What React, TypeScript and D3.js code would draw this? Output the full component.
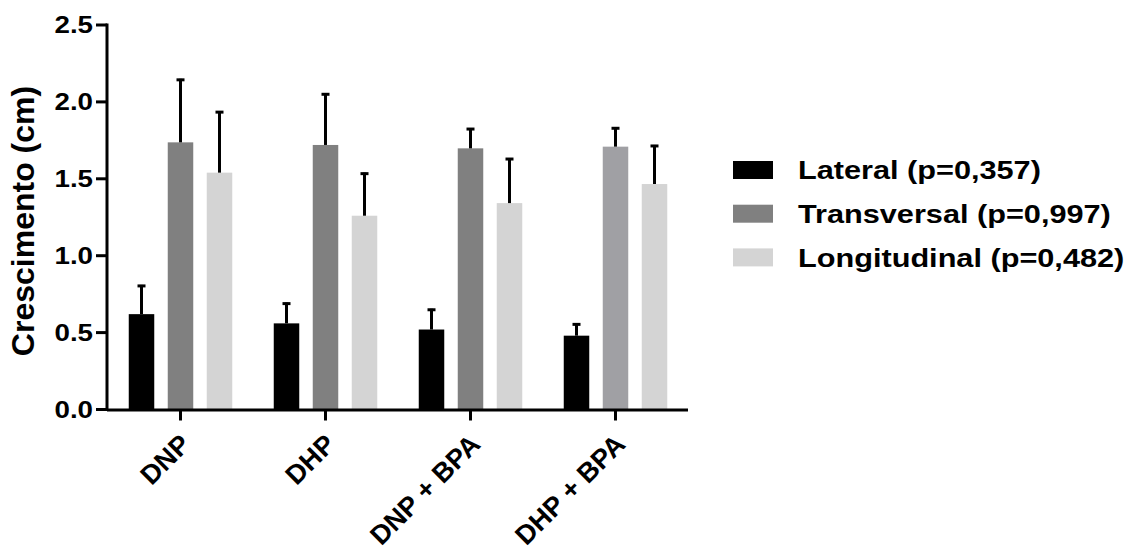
import React from "react";
import * as d3 from "d3";

const categories = ["DNP", "DHP", "DNP + BPA", "DHP + BPA"];
const seriesNames = ["Lateral (p=0,357)", "Transversal (p=0,997)", "Longitudinal (p=0,482)"];
const lateralMean = [0.62, 0.56, 0.52, 0.48];
const lateralErr = [0.19, 0.135, 0.135, 0.08];
const transversalMean = [1.737, 1.72, 1.698, 1.709];
const transversalErr = [0.413, 0.336, 0.132, 0.126];
const longitudinalMean = [1.54, 1.26, 1.342, 1.466];
const longitudinalErr = [0.4, 0.28, 0.293, 0.254];
const yTicks = [0, 0.5, 1.0, 1.5, 2.0, 2.5];

const seriesColors = ["#000000", "#808080", "#d4d4d4"];
const barColorOverride: Record<string, string> = { "1-3": "#a0a0a4" };

const means = [lateralMean, transversalMean, longitudinalMean];
const errs = [lateralErr, transversalErr, longitudinalErr];

const FONT = "'Liberation Sans', Arial, sans-serif";
const SX = 1.18;

export default function App() {
  const W = 1142, H = 553;
  const x0 = 107, x1 = 688, yTop = 25, yBot = 409.5;
  const x = d3.scaleBand<string>().domain(categories).range([x0 + 1, x1]).paddingInner(0).paddingOuter(0);
  const y = d3.scaleLinear().domain([0, 2.5]).range([yBot, yTop]);
  const sub = d3.scaleBand<number>().domain([0, 1, 2]).range([-51.75, 51.75]).paddingInner(0.346).paddingOuter(0);
  const bw = sub.bandwidth();

  return (
    <svg width={W} height={H} style={{ position: "absolute", left: 0, top: 0, background: "#fff" }} fontFamily={FONT}>
      {/* bars */}
      {categories.map((c, ci) => {
        const cx = (x(c) as number) + x.bandwidth() / 2;
        return (
          <g key={c}>
            {means.map((m, si) => {
              const bx = cx + (sub(si) as number);
              const fill = barColorOverride[`${si}-${ci}`] || seriesColors[si];
              const top = y(m[ci]);
              const et = y(m[ci] + errs[si][ci]);
              const mx = bx + bw / 2;
              return (
                <g key={si}>
                  <rect x={bx} y={top} width={bw} height={yBot - top} fill={fill} />
                  <line x1={mx} x2={mx} y1={top} y2={et} stroke="#000" strokeWidth={3} />
                  <line x1={mx - 4} x2={mx + 4} y1={et + 1} y2={et + 1} stroke="#000" strokeWidth={3} />
                </g>
              );
            })}
          </g>
        );
      })}
      {/* y axis */}
      <line x1={x0} x2={x0} y1={yTop - 1.5} y2={yBot + 1.5} stroke="#000" strokeWidth={3} />
      {yTicks.map((t) => (
        <g key={t}>
          <line x1={x0 - 11} x2={x0} y1={y(t)} y2={y(t)} stroke="#000" strokeWidth={3} />
          <text
            transform={`translate(${x0 - 14},${y(t)}) scale(${SX},1)`}
            dy="0.36em"
            textAnchor="end"
            fontSize={23.5}
            fontWeight="bold"
          >
            {t.toFixed(1)}
          </text>
        </g>
      ))}
      {/* x axis */}
      <line x1={x0} x2={x1} y1={yBot + 0.5} y2={yBot + 0.5} stroke="#000" strokeWidth={3} />
      {categories.map((c) => {
        const cx = (x(c) as number) + x.bandwidth() / 2;
        return (
          <g key={c}>
            <line x1={cx} x2={cx} y1={yBot} y2={yBot + 11} stroke="#000" strokeWidth={3} />
            <text
              transform={`translate(${cx - 2},${yBot + 23}) rotate(-45)`}
              textAnchor="end"
              dy="0.7em"
              fontSize={27}
              fontWeight="bold"
            >
              {c}
            </text>
          </g>
        );
      })}
      {/* y label */}
      <text transform={`translate(34,${(85 + 357) / 2}) rotate(-90)`} textAnchor="middle" fontSize={32} fontWeight="bold">
        Crescimento (cm)
      </text>
      {/* legend */}
      {seriesNames.map((n, i) => {
        const cy = 170 + i * 43.7;
        return (
          <g key={n}>
            <rect x={733} y={cy - 9} width={40} height={18} fill={seriesColors[i]} />
            <text transform={`translate(798,${cy}) scale(${SX},1)`} dy="0.36em" fontSize={26} fontWeight="bold">
              {n}
            </text>
          </g>
        );
      })}
    </svg>
  );
}
